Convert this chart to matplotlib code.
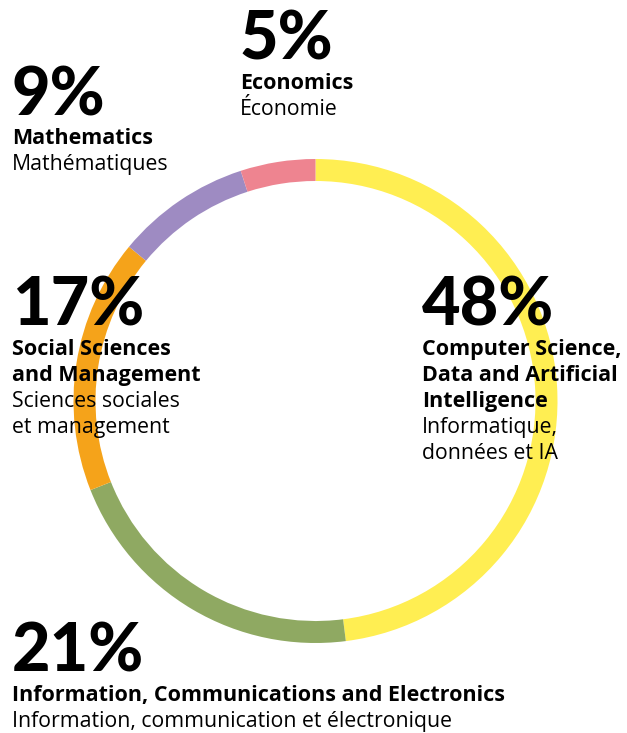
import matplotlib.pyplot as plt

# share of fields (clockwise from top)
fields_en = ["Computer Science,\nData and Artificial\nIntelligence",
             "Information, Communications and Electronics",
             "Social Sciences\nand Management",
             "Mathematics",
             "Economics"]
fields_fr = ["Informatique,\ndonnées et IA",
             "Information, communication et électronique",
             "Sciences sociales\net management",
             "Mathématiques",
             "Économie"]
shares = [48, 21, 17, 9, 5]
colors = ["#FFEE52", "#8FA962", "#F5A31A", "#9E8BC2", "#EE8490"]

W, H = 627, 733
fig = plt.figure(figsize=(W / 100, H / 100), dpi=100)
ax = fig.add_axes([0, 0, 1, 1])

cx, cy, r = 315.5, H - 401, 242
ax.pie(shares, colors=colors, startangle=90, counterclock=False,
       center=(cx, cy), radius=r, frame=True,
       wedgeprops=dict(width=22, linewidth=0))
ax.set_xlim(0, W)
ax.set_ylim(0, H)
ax.set_aspect("equal")
ax.axis("off")

# label anchors: x, baseline of the big number (pixels from top)
anchors = [(422, 326), (12, 672), (12, 326), (12, 115), (240, 60)]

num_font = dict(family="Lato", weight="black", size=48)
bold_font = dict(family="Open Sans", weight="bold", size=15.5)
reg_font = dict(family="Open Sans", weight="normal", size=15.3)
line = 26

for share, en, fr, (x, y) in zip(shares, fields_en, fields_fr, anchors):
    ax.text(x, H - y, f"{share}%", va="baseline", ha="left", color="black", **num_font)
    yy = y + 29
    for s in en.split("\n"):
        ax.text(x, H - yy, s, va="baseline", ha="left", color="black", **bold_font)
        yy += line
    for s in fr.split("\n"):
        ax.text(x, H - yy, s, va="baseline", ha="left", color="black", **reg_font)
        yy += line

fig.savefig("out.png", dpi=100)
